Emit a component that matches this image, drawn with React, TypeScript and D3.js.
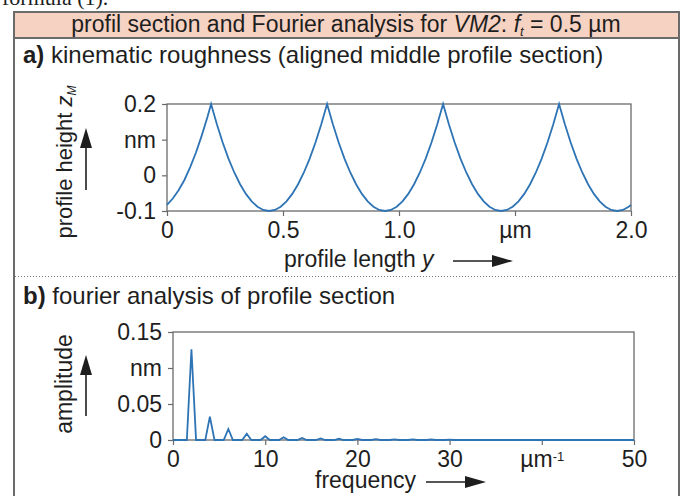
import React, { useRef, useEffect } from 'react';
import * as d3 from 'd3';

// a) kinematic roughness profile (read from the picture)
const profileY = [
  0, 0.025, 0.05, 0.075, 0.1, 0.125, 0.15, 0.175, 0.19,
  0.215, 0.24, 0.265, 0.29, 0.315, 0.34, 0.365, 0.39, 0.415, 0.44, 0.465, 0.49, 0.515, 0.54, 0.565, 0.59, 0.615, 0.64, 0.665, 0.69,
  0.715, 0.74, 0.765, 0.79, 0.815, 0.84, 0.865, 0.89, 0.915, 0.94, 0.965, 0.99, 1.015, 1.04, 1.065, 1.09, 1.115, 1.14, 1.165, 1.19,
  1.215, 1.24, 1.265, 1.29, 1.315, 1.34, 1.365, 1.39, 1.415, 1.44, 1.465, 1.49, 1.515, 1.54, 1.565, 1.59, 1.615, 1.64, 1.665, 1.69,
  1.715, 1.74, 1.765, 1.79, 1.815, 1.84, 1.865, 1.89, 1.915, 1.94, 1.965, 1.99, 2.0,
];
const profileZ = [
  -0.083, -0.065, -0.042, -0.013, 0.023, 0.064, 0.112, 0.165, 0.2,
  0.143, 0.092, 0.047, 0.008, -0.025, -0.052, -0.073, -0.088, -0.097, -0.1, -0.097, -0.088, -0.073, -0.052, -0.025, 0.008, 0.047, 0.092, 0.143, 0.2,
  0.143, 0.092, 0.047, 0.008, -0.025, -0.052, -0.073, -0.088, -0.097, -0.1, -0.097, -0.088, -0.073, -0.052, -0.025, 0.008, 0.047, 0.092, 0.143, 0.2,
  0.143, 0.092, 0.047, 0.008, -0.025, -0.052, -0.073, -0.088, -0.097, -0.1, -0.097, -0.088, -0.073, -0.052, -0.025, 0.008, 0.047, 0.092, 0.143, 0.2,
  0.143, 0.092, 0.047, 0.008, -0.025, -0.052, -0.073, -0.088, -0.097, -0.1, -0.097, -0.088, -0.083,
];
const topXTicks = [0, 0.5, 1, 1.5, 2];
const topXLabels = ['0', '0.5', '1.0', 'µm', '2.0'];
const topYTicks = [0.2, 0.1, 0, -0.1];
const topYLabels = ['0.2', 'nm', '0', '-0.1'];

// b) fourier spectrum peaks
const specFreq = [2, 4, 6, 8, 10, 12, 14, 16, 18, 20, 22, 24, 26, 28, 30];
const specAmp = [0.126, 0.0325, 0.0153, 0.0088, 0.0053, 0.0037, 0.0028, 0.0021, 0.0017, 0.0014, 0.0011, 0.0009, 0.0008, 0.0007, 0.0006];
const specHalfWidth = 0.5;
const botXTicks = [0, 10, 20, 30, 40, 50];
const botXLabels = ['0', '10', '20', '30', 'µm^-1', '50'];
const botYTicks = [0.15, 0.1, 0.05, 0];
const botYLabels = ['0.15', 'nm', '0.05', '0'];

const FONT = '"Liberation Sans", Arial, sans-serif';
const LINE = '#2e74b5';
const GRAY = '#6a6a6a';
const TXT = '#1e1e1e';
const FS = '23px';

const App = () => {
  const ref = useRef<SVGSVGElement>(null);

  useEffect(() => {
    const svg = d3.select(ref.current);
    svg.selectAll('*').remove();

    // cut-off text from the page above
    svg.append('text').attr('x', 2).attr('y', 5)
      .style('font-family', '"Liberation Serif", serif').style('font-size', '22px').attr('fill', TXT)
      .text('formula (1).');

    // frame + title bar
    svg.append('rect').attr('x', 14).attr('y', 12).attr('width', 665).attr('height', 26)
      .attr('fill', '#f6d2c3').attr('stroke', GRAY).attr('stroke-width', 2);
    svg.append('line').attr('x1', 14).attr('x2', 14).attr('y1', 12).attr('y2', 496).attr('stroke', GRAY).attr('stroke-width', 2);
    svg.append('line').attr('x1', 679).attr('x2', 679).attr('y1', 12).attr('y2', 496).attr('stroke', GRAY).attr('stroke-width', 2);

    const title = svg.append('text').attr('x', 346).attr('y', 32).attr('text-anchor', 'middle')
      .style('font-family', FONT).style('font-size', '23px').attr('fill', TXT);
    title.append('tspan').text('profil section and Fourier analysis for ');
    title.append('tspan').style('font-style', 'italic').text('VM2');
    title.append('tspan').text(': ');
    title.append('tspan').style('font-style', 'italic').text('f');
    title.append('tspan').attr('dy', 4).style('font-size', '13px').style('font-style', 'italic').text('t');
    title.append('tspan').attr('dy', -4).text(' = 0.5 µm');

    // separator
    svg.append('line').attr('x1', 15).attr('x2', 678).attr('y1', 276.5).attr('y2', 276.5)
      .attr('stroke', '#777').attr('stroke-width', 1).attr('stroke-dasharray', '1,2');

    const heading = (y: number, tag: string, txt: string) => {
      const t = svg.append('text').attr('x', 23).attr('y', y)
        .style('font-family', FONT).style('font-size', '24px').attr('fill', TXT);
      t.append('tspan').style('font-weight', 'bold').text(tag);
      t.append('tspan').text(' ' + txt);
    };
    heading(63, 'a)', 'kinematic roughness (aligned middle profile section)');
    heading(304, 'b)', 'fourier analysis of profile section');

    const styleAxis = (g: any) => {
      g.select('.domain').remove();
      g.selectAll('.tick line').attr('stroke', GRAY).attr('stroke-width', 1.2);
      g.selectAll('.tick text').style('font-family', FONT).style('font-size', FS).attr('fill', TXT);
    };

    const upArrow = (x: number, y0: number, y1: number) => {
      svg.append('line').attr('x1', x).attr('x2', x).attr('y1', y0).attr('y2', y1 + 14)
        .attr('stroke', TXT).attr('stroke-width', 1.6);
      svg.append('path').attr('d', `M${x},${y1}L${x - 6},${y1 + 20}L${x + 6},${y1 + 20}Z`).attr('fill', TXT);
    };
    const rightArrow = (y: number, x0: number, x1: number) => {
      svg.append('line').attr('x1', x0).attr('x2', x1 - 14).attr('y1', y).attr('y2', y)
        .attr('stroke', TXT).attr('stroke-width', 1.6);
      svg.append('path').attr('d', `M${x1},${y}L${x1 - 21},${y - 6}L${x1 - 21},${y + 6}Z`).attr('fill', TXT);
    };

    // ---- top chart
    const x1 = d3.scaleLinear().domain([0, 2]).range([167, 631]);
    const y1 = d3.scaleLinear().domain([-0.1, 0.2]).range([211, 104]);

    svg.append('g').attr('transform', `translate(0,${y1(-0.1)})`)
      .call(d3.axisBottom(x1).tickValues(topXTicks).tickFormat((_d, i) => topXLabels[i]).tickSizeInner(5).tickSizeOuter(0).tickPadding(6))
      .call(styleAxis);
    svg.append('g').attr('transform', `translate(${x1(0)},0)`)
      .call(d3.axisLeft(y1).tickValues(topYTicks).tickFormat((_d, i) => topYLabels[i]).tickSizeInner(5).tickSizeOuter(0).tickPadding(6))
      .call(styleAxis);

    svg.append('rect').attr('x', x1(0)).attr('y', y1(0.2)).attr('width', x1(2) - x1(0)).attr('height', y1(-0.1) - y1(0.2))
      .attr('fill', 'none').attr('stroke', GRAY).attr('stroke-width', 1.3);

    const profLine = d3.line<number>().x((_d, i) => x1(profileY[i])).y(d => y1(d));
    svg.append('path').attr('d', profLine(profileZ)).attr('fill', 'none').attr('stroke', LINE).attr('stroke-width', 1.8);

    const zl = svg.append('text').attr('transform', 'translate(72,162) rotate(-90)').attr('text-anchor', 'middle')
      .style('font-family', FONT).style('font-size', '22px').attr('fill', TXT);
    zl.append('tspan').text('profile height ');
    zl.append('tspan').style('font-style', 'italic').text('z');
    zl.append('tspan').attr('dy', 4).style('font-size', '12px').style('font-style', 'italic').text('M');
    upArrow(86, 190, 128);

    const xl = svg.append('text').attr('x', 284).attr('y', 267)
      .style('font-family', FONT).style('font-size', FS).attr('fill', TXT);
    xl.append('tspan').text('profile length ');
    xl.append('tspan').style('font-style', 'italic').text('y');
    rightArrow(261, 453, 513);

    // ---- bottom chart
    const x2 = d3.scaleLinear().domain([0, 50]).range([173, 634]);
    const y2 = d3.scaleLinear().domain([0, 0.15]).range([440, 332]);

    const gx2 = svg.append('g').attr('transform', `translate(0,${y2(0)})`)
      .call(d3.axisBottom(x2).tickValues(botXTicks).tickFormat((_d, i) => botXLabels[i]).tickSizeInner(5).tickSizeOuter(0).tickPadding(6))
      .call(styleAxis);
    gx2.selectAll('.tick text').each(function (this: any, _d: any, i: number) {
      const lab = botXLabels[i];
      if (lab.includes('^')) {
        const [base, sup] = lab.split('^');
        const t = d3.select(this);
        t.text(null);
        t.append('tspan').text(base);
        t.append('tspan').attr('dy', '-0.45em').style('font-size', '13px').text(sup);
      }
    });
    svg.append('g').attr('transform', `translate(${x2(0)},0)`)
      .call(d3.axisLeft(y2).tickValues(botYTicks).tickFormat((_d, i) => botYLabels[i]).tickSizeInner(5).tickSizeOuter(0).tickPadding(6))
      .call(styleAxis);

    svg.append('rect').attr('x', x2(0)).attr('y', y2(0.15)).attr('width', x2(50) - x2(0)).attr('height', y2(0) - y2(0.15))
      .attr('fill', 'none').attr('stroke', GRAY).attr('stroke-width', 1.3);

    const specPts: [number, number][] = [[0, 0]];
    specFreq.forEach((f, i) => {
      specPts.push([f - specHalfWidth, 0], [f, specAmp[i]], [f + specHalfWidth, 0]);
    });
    specPts.push([50, 0]);
    const specLine = d3.line<[number, number]>().x(d => x2(d[0])).y(d => y2(d[1]));
    svg.append('path').attr('d', specLine(specPts)).attr('fill', 'none').attr('stroke', LINE).attr('stroke-width', 1.8);

    svg.append('text').attr('transform', 'translate(72,384) rotate(-90)').attr('text-anchor', 'middle')
      .style('font-family', FONT).style('font-size', FS).attr('fill', TXT).text('amplitude');
    upArrow(86, 416, 355);

    svg.append('text').attr('x', 315).attr('y', 488)
      .style('font-family', FONT).style('font-size', FS).attr('fill', TXT).text('frequency');
    rightArrow(482, 426, 486);
  }, []);

  return <svg ref={ref} width={686} height={496} style={{ position: 'absolute', left: 0, top: 0, background: '#fff' }}></svg>;
};

export default App;
